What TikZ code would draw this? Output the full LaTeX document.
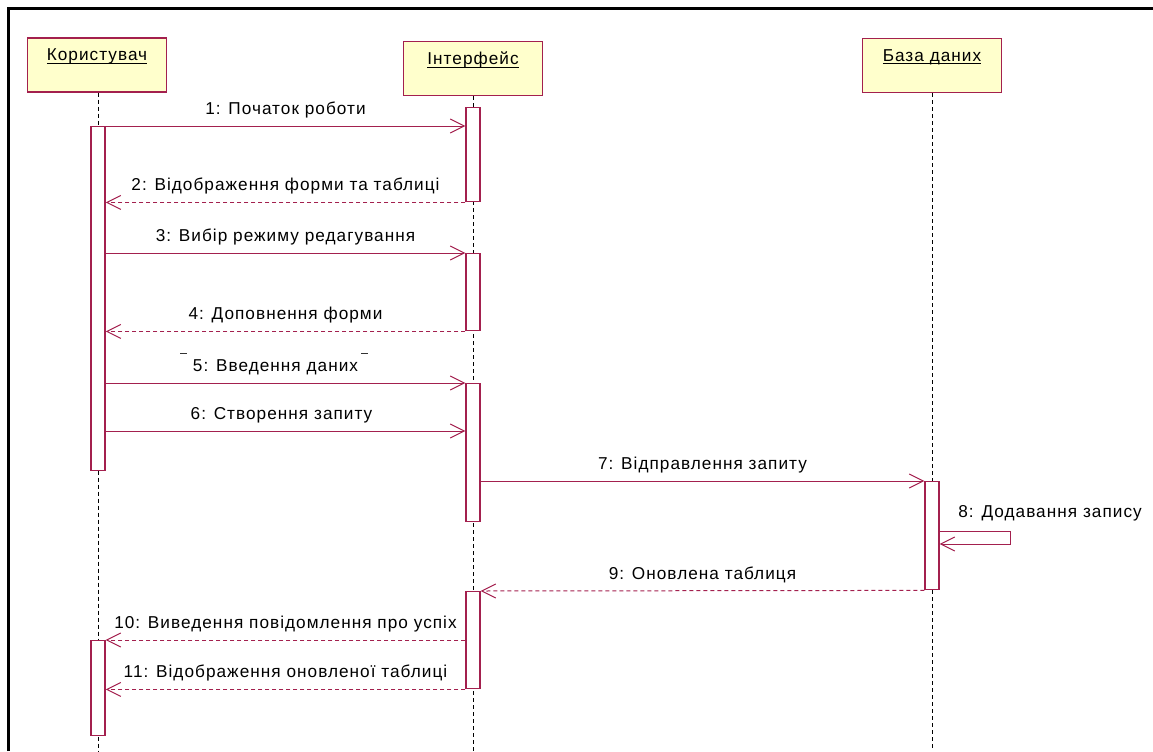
\documentclass[tikz,border=0pt]{standalone}
\usepackage{fontspec}
\setmainfont[LetterSpace=6]{Liberation Sans}
\usetikzlibrary{arrows.meta, positioning}
\definecolor{umlred}{HTML}{A3204E}
\definecolor{umlfill}{HTML}{FFFFCC}
\newcommand{\objuline}[1]{\setbox0\hbox{#1}\rlap{\rule[-1.6pt]{\wd0}{0.5pt}}\box0}
\tikzset{
  objbox/.style={draw=umlred, fill=umlfill, line width=0.7pt, minimum width=69.5pt, minimum height=27pt, inner sep=0pt},
  objname/.style={font=\fontsize{8.6}{9}\selectfont, inner sep=0pt},
  lifeline/.style={black, line width=0.5pt, dash pattern=on 2pt off 1.5pt},
  actbox/.style={draw=umlred, fill=white, line width=0.7pt, minimum width=7pt, inner sep=0pt, anchor=north},
  msg/.style={umlred, line width=0.5pt, -{Straight Barb[length=7pt,width=7pt]}},
  reply/.style={msg, dash pattern=on 2pt off 1.5pt},
  msglbl/.style={black, font=\fontsize{8.6}{9}\selectfont, text depth=0pt, inner sep=0pt, midway, above=5.5pt}
}
\begin{document}
\begin{tikzpicture}[x=0.5pt, y=-0.5pt]
\useasboundingbox (0,0) rectangle (1153,751);
% frame
\draw[line width=1.5pt] (8.5,751) -- (8.5,8.5) -- (1153,8.5);

% objects
\node[objbox] (user) at (97,65) {};
\node[objname, below=5.5pt of user.north] (userlbl) {\objuline{Користувач}};
\node[objbox] (gui) at (473,68.5) {};
\node[objname, below=5.5pt of gui.north] (guilbl) {\objuline{Інтерфейс}};
\node[objbox] (db) at (932,65.5) {};
\node[objname, below=5.5pt of db.north] (dblbl) {\objuline{База даних}};

% lifelines
\coordinate (userend) at (98,751);
\coordinate (guiend) at (473,751);
\coordinate (dbend) at (932,751);
\draw[lifeline] (user.south -| userend) -- (userend);
\draw[lifeline] (gui.south) -- (guiend);
\draw[lifeline] (db.south) -- (dbend);

% activations
\node[actbox, minimum height=172pt] (uact1) at (98,126) {};
\node[actbox, minimum height=47.5pt] (uact2) at (98,640) {};
\node[actbox, minimum height=47pt] (iact1) at (473,107) {};
\node[actbox, minimum height=38.5pt] (iact2) at (473,253) {};
\node[actbox, minimum height=69pt] (iact3) at (473,383) {};
\node[actbox, minimum height=48.5pt] (iact4) at (473,591) {};
\node[actbox, minimum height=54pt] (dact) at (932,481) {};

% messages
\draw[msg] (uact1.north east) -- (iact1.west |- uact1.north) node[msglbl] {1: Початок роботи};
\draw[reply] (iact1.south west) -- (uact1.east |- iact1.south) node[msglbl] {2: Відображення форми та таблиці};
\draw[msg] (uact1.east |- iact2.north) -- (iact2.north west) node[msglbl] {3: Вибір режиму редагування};
\draw[reply] (iact2.south west) -- (uact1.east |- iact2.south) node[msglbl] {4: Доповнення форми};
\draw[msg] (uact1.east |- iact3.north) -- (iact3.north west) node[msglbl, xshift=-5pt] {5: Введення даних};
\draw[msg] (uact1.east |- 0,431) -- (iact3.west |- 0,431) node[msglbl, xshift=-2pt] {6: Створення запиту};
\draw[msg] (iact3.east |- dact.north) -- (dact.north west) node[msglbl] {7: Відправлення запиту};
\draw[msg] (dact.east |- 0,531) -- ++(71,0) -- ++(0,13) -- (dact.east |- 0,544);
\node[black, font=\fontsize{8.6}{9}\selectfont, inner sep=0pt, anchor=base west] (selflbl) at (958,517) {8: Додавання запису};
\draw[reply] (dact.south west) -- (iact4.north east) node[msglbl] {9: Оновлена таблиця};
\draw[reply] (iact4.west |- uact2.north) -- (uact2.north east) node[msglbl] {10: Виведення повідомлення про успіх};
\draw[reply] (iact4.south west) -- (uact2.east |- iact4.south) node[msglbl] {11: Відображення оновленої таблиці};

% stray marks
\draw[black!80, line width=0.5pt] (180,353) -- (187,353);
\draw[black!80, line width=0.5pt] (361,353) -- (368,353);
\end{tikzpicture}
\end{document}
